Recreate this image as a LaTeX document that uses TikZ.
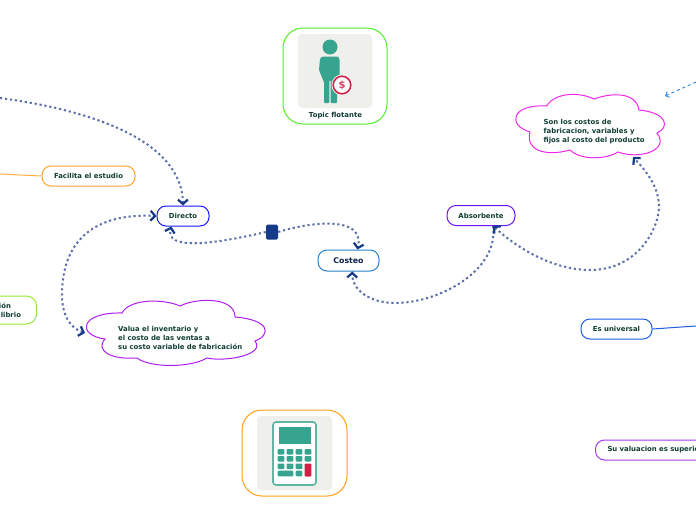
\documentclass[tikz,border=0pt]{standalone}
\usepackage{fontspec}
\setmainfont{DejaVu Sans}
\usetikzlibrary{arrows.meta}
\definecolor{textgreen}{HTML}{0F3D33}
\definecolor{textnavy}{HTML}{0B1F4D}
\definecolor{dotblue}{HTML}{5B70A9}
\definecolor{tipblue}{HTML}{153A8A}
\definecolor{iconteal}{HTML}{36A48F}
\definecolor{iconred}{HTML}{D21F45}
\definecolor{icongrey}{HTML}{EFEFEB}
\definecolor{lightblue}{RGB}{60,145,230}
\tikzset{
  pill/.style={draw,line width=1pt,rounded corners=9pt,minimum height=20pt,inner sep=0pt,
    font=\bfseries\fontsize{6.9}{9}\selectfont,text=textgreen},
  cloudtext/.style={align=left,anchor=west,inner sep=0pt,
    font=\bfseries\fontsize{6.9}{9}\selectfont,text=textgreen},
  topicbox/.style={line width=1pt,rounded corners=20pt},
  dotline/.style={dotblue,line width=2pt,dash pattern=on 2.2pt off 2.8pt},
  thinline/.style={line width=1pt}
}
\begin{document}
\begin{tikzpicture}[x=1pt,y=-1pt,
  >={Straight Barb[color=tipblue,length=4.5pt,width=10pt,line width=2.2pt]}]
  \clip (0,0) rectangle (696,520);
  \fill[white] (0,0) rectangle (696,520);

  % picture boxes
  \draw[topicbox,draw={rgb,255:red,80;green,240;blue,40}] (283,28) rectangle (387,124);
  \fill[icongrey,rounded corners=4pt] (298,34) rectangle (372,108);
  \draw[topicbox,draw={rgb,255:red,255;green,160;blue,20}] (242,410) rectangle (347,496);
  \fill[icongrey,rounded corners=4pt] (257,416) rectangle (332,490);
  \node[font=\bfseries\fontsize{6.9}{9}\selectfont,text=textgreen,inner sep=0pt] (topic) at (335.5,116) {Topic flotante};

  % man with coin
  \fill[iconteal] (330,47) circle (7.5);
  \fill[iconteal,rounded corners=1pt] (322,56.5) -- (338,56.5) -- (339.5,59) -- (339.5,78) -- (337,80)
    -- (337,103) -- (330.6,103) -- (330.6,80) -- (329.4,80) -- (329.4,103) -- (324,103) -- (324,82)
    -- (323,80) -- (319,70) -- (320,59) -- cycle;
  \fill[white] (342,85) circle (10.5);
  \draw[iconred,line width=1.6pt] (342,85) circle (8.8);
  \node[font=\bfseries\fontsize{10}{10}\selectfont,text=iconred!85!white,inner sep=0pt] (coin) at (342,85.5) {\$};

  % calculator
  \draw[iconteal!80!white,line width=1.6pt,rounded corners=3pt,fill=white] (273,422) rectangle (316,485);
  \fill[iconteal] (279,427) rectangle (311,444);
  \foreach \y in {449,456,463.5} {
    \foreach \x in {277.7,286.7,295.7} {
      \fill[iconteal,rounded corners=1pt] (\x,\y) rectangle ++(6.6,5.6);
    }
  }
  \foreach \y in {449,456} {
    \fill[iconteal,rounded corners=1pt] (304.7,\y) rectangle ++(6.6,5.6);
  }
  \fill[iconteal,rounded corners=1pt] (277.7,470.7) rectangle (293.3,476.3);
  \fill[iconteal,rounded corners=1pt] (295.7,470.7) rectangle (302.3,476.3);
  \fill[iconred,rounded corners=1pt] (304.7,463.5) rectangle (311.3,476.5);

  % clouds
  \draw[draw={rgb,255:red,240;green,40;blue,235},line width=1pt,fill=white]
    (546.7,106) .. controls (555,92) and (580,92) .. (594,99)
    .. controls (610,93) and (636,91) .. (639,110)
    .. controls (669,113) and (669,128) .. (657,133)
    .. controls (670,150) and (640,160) .. (618,152)
    .. controls (605,160) and (580,160) .. (570,150)
    .. controls (545,157) and (525,150) .. (530,132)
    .. controls (507,125) and (511,104) .. (546.7,106) -- cycle;
  \node[cloudtext] (costos) at (543.5,131.5) {Son los costos de\\fabricacion, variables y\\fijos al costo del producto};
  \draw[draw={rgb,255:red,175;green,30;blue,240},line width=1pt,fill=white]
    (122,313) .. controls (130,298) and (165,299) .. (180,306)
    .. controls (195,298) and (235,296) .. (235,317)
    .. controls (271,320) and (271,335) .. (255,341)
    .. controls (266,355) and (225,362) .. (207,358)
    .. controls (190,368) and (150,368) .. (137,358)
    .. controls (110,360) and (95,350) .. (105,339)
    .. controls (76,335) and (80,312) .. (122,313) -- cycle;
  \node[cloudtext] (valua) at (118,337.5) {Valua el inventario y\\el costo de las ventas a\\su costo variable de fabricación};
  \coordinate (costosEnd) at (633,157);
  \coordinate (valuaEnd) at (85,333);

  % topics
  \node[pill,draw=blue!90!white,minimum width=52pt] (directo) at (183,216) {Directo};
  \node[pill,draw={rgb,255:red,40;green,130;blue,205},minimum width=61pt,minimum height=21pt,text=textnavy,
    font=\bfseries\fontsize{7.8}{9}\selectfont] (costeo) at (348.5,260.5) {Costeo};
  \node[pill,draw={rgb,255:red,110;green,20;blue,245},minimum width=68pt] (absorbente) at (481,215.5) {Absorbente};
  \node[pill,draw={rgb,255:red,255;green,165;blue,40},minimum width=93pt] (facilita) at (88.5,176) {Facilita el estudio};
  \node[pill,draw={rgb,255:red,30;green,95;blue,230},minimum width=71pt] (universal) at (616.5,329) {Es universal};
  \node[pill,draw={rgb,255:red,165;green,60;blue,235},minimum width=140pt,anchor=west,align=left,inner xsep=12pt,text width=116pt] (valuacion) at (595,450) {Su valuacion es superior};
  \node[pill,draw={rgb,255:red,150;green,235;blue,50},minimum width=50pt,minimum height=28pt,rounded corners=10pt,anchor=east,align=right,inner xsep=15.5pt] (margen) at (37,310) {ión\hspace*{10pt}\\ilibrio};
  \node[draw=none,fill=tipblue,rounded corners=1.5pt,minimum width=12pt,minimum height=15pt,inner sep=0pt] (nudo) at (272,232) {};

  % connectors
  \coordinate (loose) at (0,98);
  \coordinate (looseblue) at (696,82);
  \coordinate (looseuni) at (696,326);
  \coordinate (looseorange) at (0,174);
  \draw[dotline,->] (loose) .. controls (90,110) and (182,140) .. (directo.north);
  \draw[dotline,<->] (valuaEnd) .. controls (70,328) and (62,315) .. (62,295)
    .. controls (62,240) and (95,213) .. (directo.west);
  \draw[dotline,->] (nudo.west) .. controls (210,245) and (165,250) .. (directo.-138);
  \draw[dotline,->] (nudo.east) .. controls (310,222) and (365,215) .. (costeo.51);
  \draw[dotline,->] (absorbente.-41) .. controls (499,270) and (440,303) .. (395,303)
    .. controls (370,303) and (352,290) .. (costeo.-71);
  \draw[dotline,<->] (absorbente.-41) .. controls (525,255) and (560,270) .. (590,270)
    .. controls (640,270) and (660,225) .. (659,205)
    .. controls (658,185) and (645,170) .. (costosEnd);
  \draw[lightblue,line width=1pt,dashed,-{Straight Barb[length=3pt,width=6pt]}] (looseblue) -- (665,96);
  \draw[thinline,draw={rgb,255:red,30;green,95;blue,230}] (universal.east) -- (looseuni);
  \draw[thinline,draw={rgb,255:red,255;green,175;blue,60}] (facilita.west) -- (looseorange);
\end{tikzpicture}
\end{document}
